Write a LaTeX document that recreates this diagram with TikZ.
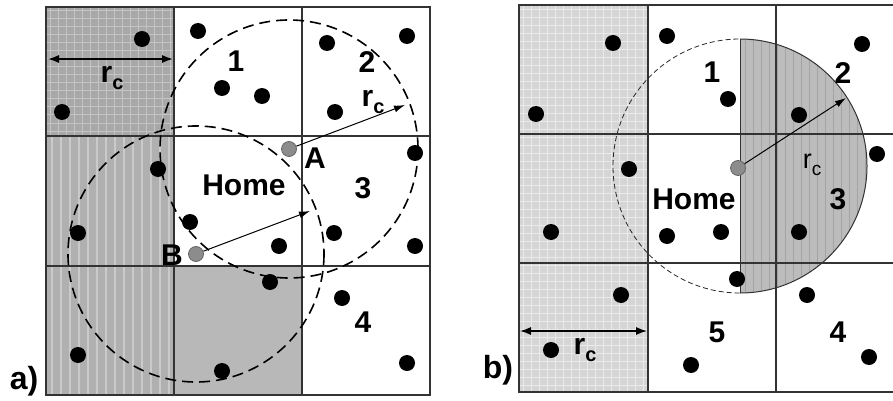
\documentclass[tikz,border=0pt]{standalone}
\usepackage{fontspec}
\setmainfont{Liberation Sans}
\usetikzlibrary{arrows.meta}
\definecolor{shA}{HTML}{A8A8A8}
\definecolor{shAl}{HTML}{C4C4C4}
\definecolor{shB}{HTML}{B0B0B0}
\definecolor{shBl}{HTML}{CACACA}
\definecolor{shC}{HTML}{B8B8B8}
\definecolor{shD}{HTML}{D5D5D5}
\definecolor{shDl}{HTML}{EAEAEA}
\definecolor{shE}{HTML}{BCBCBC}
\definecolor{shEl}{HTML}{A4A4A4}
\definecolor{gridc}{HTML}{333333}
\newcommand{\myrc}{r\raisebox{-0.45ex}{\fontsize{20}{20}\selectfont c}}
\begin{document}
\begin{tikzpicture}[x=1pt,y=-1pt,
  dot/.style={circle,fill=black,inner sep=0pt,minimum size=16pt},
  homept/.style={circle,fill=gray!90,draw=black!60,line width=0.8pt,inner sep=0pt,minimum size=15pt},
  lbl/.style={font=\fontsize{30}{30}\selectfont\bfseries,inner sep=0pt},
  homelbl/.style={font=\fontsize{30}{30}\selectfont\bfseries,inner sep=0pt},
  gridline/.style={draw=gridc,line width=1.1pt},
  rangecirc/.style={draw=black,line width=1.6pt,dash pattern=on 11pt off 6pt},
  thinrange/.style={draw=black!85,line width=0.8pt,dash pattern=on 5pt off 3pt},
  radarrow/.style={draw=black,line width=1pt,-{Latex[length=11pt,width=7pt]}},
  dblarrow/.style={draw=black,line width=1.3pt,{Latex[length=11pt,width=8pt]}-{Latex[length=11pt,width=8pt]}}]
\useasboundingbox (0,0) rectangle (893,401);

% ---------- panel a) shading ----------
\begin{scope}
  \clip (46,7) rectangle (174,136);
  \fill[shA] (46,7) rectangle (174,136);
  \foreach \x in {50,58,...,174} \draw[shAl,line width=1pt] (\x,7) -- (\x,136);
  \foreach \y in {11,19,...,136} \draw[shAl,line width=1pt] (46,\y) -- (174,\y);
\end{scope}
\begin{scope}
  \clip (46,136) rectangle (174,395);
  \fill[shB] (46,136) rectangle (174,395);
  \foreach \x in {52,61,...,174} \draw[shBl,line width=1.2pt] (\x,136) -- (\x,395);
\end{scope}
\fill[shC] (174,266) rectangle (302,395);

% ---------- panel b) shading ----------
\begin{scope}
  \clip (519,5) rectangle (648,392);
  \fill[shD] (519,5) rectangle (648,392);
  \foreach \x in {523,531,...,648} \draw[shDl,line width=0.9pt] (\x,5) -- (\x,392);
  \foreach \y in {9,17,...,392} \draw[shDl,line width=0.9pt] (519,\y) -- (648,\y);
\end{scope}
\begin{scope}
  \clip (740,0) rectangle (893,401);
  \clip (740,166) circle[radius=127];
  \fill[shE] (740,30) rectangle (893,300);
  \foreach \x in {745,753,...,870} \draw[shEl,line width=0.6pt] (\x,30) -- (\x,300);
\end{scope}

% ---------- grids ----------
\draw[gridline] (46,7) rectangle (430,395);
\draw[gridline] (174,7) -- (174,395);
\draw[gridline] (302,7) -- (302,395);
\draw[gridline] (46,136) -- (430,136);
\draw[gridline,line width=1.6pt] (46,266) -- (430,266);

\draw[gridline] (893,5) -- (519,5) -- (519,392) -- (893,392);
\draw[gridline] (648,5) -- (648,392);
\draw[gridline] (776,5) -- (776,392);
\draw[gridline,line width=1.6pt] (519,134) -- (893,134);
\draw[gridline,line width=1.6pt] (519,263) -- (893,263);

% ---------- range circles ----------
\draw[rangecirc] (289,149) circle[radius=129];
\draw[rangecirc] (196,254) circle[radius=128];

\begin{scope}
  \clip (600,0) rectangle (740,401);
  \draw[thinrange] (740,166) circle[radius=127];
\end{scope}
\begin{scope}
  \clip (740,0) rectangle (893,401);
  \draw[black!80,line width=1pt] (740,166) circle[radius=127];
\end{scope}
\coordinate (semitop) at (740,39);
\coordinate (semibot) at (740,293);
\draw[black!80,line width=1pt] (semitop) -- (semibot);

% ---------- nodes of panel a) ----------
\foreach \p [count=\i] in {(142,39),(62,112),(198,31),(222,88),(262,96),(327,43),(407,36),(335,112),(415,153),(158,169),(78,233),(190,222),(279,246),(334,233),(415,246),(270,282),(342,298),(78,355),(222,371),(407,363)}
  \node[dot] (a\i) at \p {};
\node[homept] (A) at (289,149) {};
\node[homept] (B) at (196,254) {};
\coordinate (Aend) at (405,105);
\coordinate (Bend) at (310,211);
\draw[radarrow] (A) -- (Aend);
\draw[radarrow] (B) -- (Bend);
\coordinate (rcL) at (48,59);
\coordinate (rcR) at (173,59);
\draw[dblarrow] (rcL) -- (rcR);

\node[lbl] (la1) at (236,61) {1};
\node[lbl] (la2) at (367,62) {2};
\node[homelbl] (lahome) at (244,185) {Home};
\node[lbl] (la3) at (363,188) {3};
\node[lbl] (la4) at (363,322) {4};
\node[lbl] (lA) at (315,158) {A};
\node[lbl] (lB) at (172,255) {B};
\node[lbl,font=\fontsize{32}{32}\selectfont\bfseries] (lalab) at (24,381) {a)};
\node[lbl] (larc1) at (112,78) {\myrc};
\node[lbl] (larc2) at (373,102) {\myrc};

% ---------- nodes of panel b) ----------
\foreach \p [count=\i] in {(613,43),(536,114),(667,36),(728,99),(862,44),(799,115),(877,154),(629,169),(551,232),(667,236),(721,232),(799,232),(737,279),(621,295),(807,295),(551,350),(691,365),(869,357)}
  \node[dot] (b\i) at \p {};
\node[homept] (H) at (738,168) {};
\coordinate (Hend) at (846,98);
\draw[radarrow] (H) -- (Hend);
\coordinate (rcL2) at (520,331);
\coordinate (rcR2) at (647,331);
\draw[dblarrow] (rcL2) -- (rcR2);

\node[lbl] (lb1) at (712,72) {1};
\node[lbl] (lb2) at (843,73) {2};
\node[homelbl] (lbhome) at (694,199) {Home};
\node[lbl] (lb3) at (838,199) {3};
\node[lbl] (lb5) at (717,332) {5};
\node[lbl] (lb4) at (838,332) {4};
\node[lbl,font=\fontsize{32}{32}\selectfont\bfseries] (lblab) at (498,370) {b)};
\node[lbl,font=\fontsize{27}{27}\selectfont] (lbrc1) at (812,165) {r\raisebox{-0.45ex}{\fontsize{19}{19}\selectfont c}};
\node[lbl] (lbrc2) at (585,350) {\myrc};
\end{tikzpicture}
\end{document}
